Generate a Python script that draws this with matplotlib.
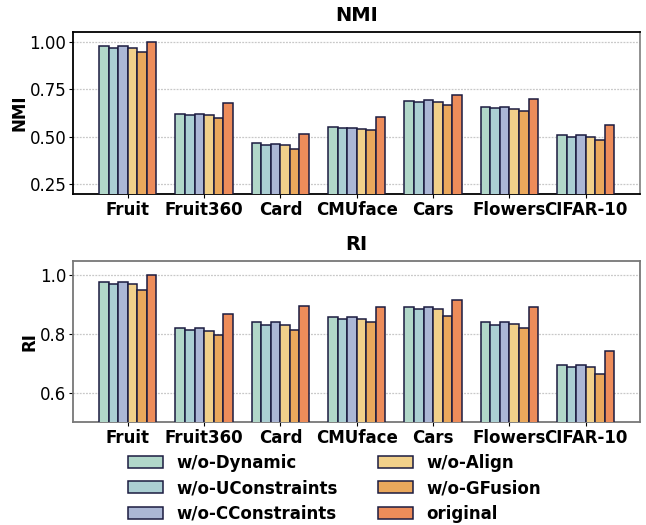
import numpy as np
import matplotlib
matplotlib.use("Agg")
import matplotlib.pyplot as plt

datasets = ["Fruit", "Fruit360", "Card", "CMUface", "Cars", "Flowers", "CIFAR-10"]
variants = ["w/o-Dynamic", "w/o-UConstraints", "w/o-CConstraints",
            "w/o-Align", "w/o-GFusion", "original"]
colors = ["#b1d7c9", "#abcfd3", "#abb7d5", "#f1d08a", "#eaa85c", "#ed8c5a"]

# NMI values, one list per variant (order follows datasets)
nmi_dynamic = [0.976, 0.622, 0.467, 0.551, 0.689, 0.656, 0.511]
nmi_ucons   = [0.967, 0.617, 0.458, 0.546, 0.684, 0.651, 0.502]
nmi_ccons   = [0.979, 0.622, 0.465, 0.549, 0.693, 0.659, 0.509]
nmi_align   = [0.968, 0.617, 0.460, 0.544, 0.684, 0.649, 0.502]
nmi_gfusion = [0.947, 0.601, 0.439, 0.535, 0.666, 0.637, 0.483]
nmi_orig    = [1.000, 0.677, 0.516, 0.604, 0.722, 0.700, 0.563]

# RI values
ri_dynamic = [0.976, 0.820, 0.840, 0.857, 0.891, 0.840, 0.696]
ri_ucons   = [0.971, 0.813, 0.831, 0.851, 0.884, 0.831, 0.688]
ri_ccons   = [0.978, 0.822, 0.840, 0.858, 0.892, 0.840, 0.694]
ri_align   = [0.970, 0.812, 0.832, 0.851, 0.886, 0.833, 0.688]
ri_gfusion = [0.951, 0.797, 0.815, 0.840, 0.863, 0.820, 0.666]
ri_orig    = [1.000, 0.869, 0.897, 0.893, 0.915, 0.891, 0.744]

nmi = [nmi_dynamic, nmi_ucons, nmi_ccons, nmi_align, nmi_gfusion, nmi_orig]
ri = [ri_dynamic, ri_ucons, ri_ccons, ri_align, ri_gfusion, ri_orig]

fig = plt.figure(figsize=(6.46, 5.25), dpi=100)
ax1 = fig.add_axes([0.1135, 0.6305, 0.8775, 0.308])
ax2 = fig.add_axes([0.1135, 0.1956, 0.8775, 0.3078])

x = np.arange(len(datasets))
w = 0.125


def draw(ax, data, title, ylim, ticks, fmt, spine_color):
    for i, (vals, c) in enumerate(zip(data, colors)):
        ax.bar(x + (i - 2.5) * w, vals, w, color=c, edgecolor="#1b1b40",
               linewidth=1.1, label=variants[i], zorder=3)
    ax.set_ylim(*ylim)
    ax.set_yticks(ticks)
    ax.set_yticklabels([fmt % t for t in ticks], fontsize=12)
    ax.set_xticks(x)
    ax.set_xticklabels(datasets, fontsize=12, fontweight="bold")
    ax.set_ylabel(title, fontsize=12, fontweight="bold", labelpad=1)
    ax.set_title(title, fontsize=14, fontweight="bold", pad=8)
    ax.grid(axis="y", linestyle=(0, (1.5, 1)), color="#c8c8c8", linewidth=0.9, zorder=0)
    for s in ax.spines.values():
        s.set_color(spine_color)
        s.set_linewidth(1.3)
    ax.tick_params(axis="both", length=3, pad=2)


draw(ax1, nmi, "NMI", (0.2, 1.05), [0.25, 0.5, 0.75, 1.0], "%.2f", "black")
ax1.spines["right"].set_color("#888888")
draw(ax2, ri, "RI", (0.5, 1.05), [0.6, 0.8, 1.0], "%.1f", "#777777")

handles, labels = ax1.get_legend_handles_labels()
fig.legend(handles, labels, loc="lower center", bbox_to_anchor=(0.518, -0.024),
           ncol=2, frameon=False, prop={"size": 12, "weight": "bold"},
           handlelength=2.1, handletextpad=0.8, columnspacing=2.4,
           labelspacing=0.45)

fig.savefig("out.png", dpi=100)
